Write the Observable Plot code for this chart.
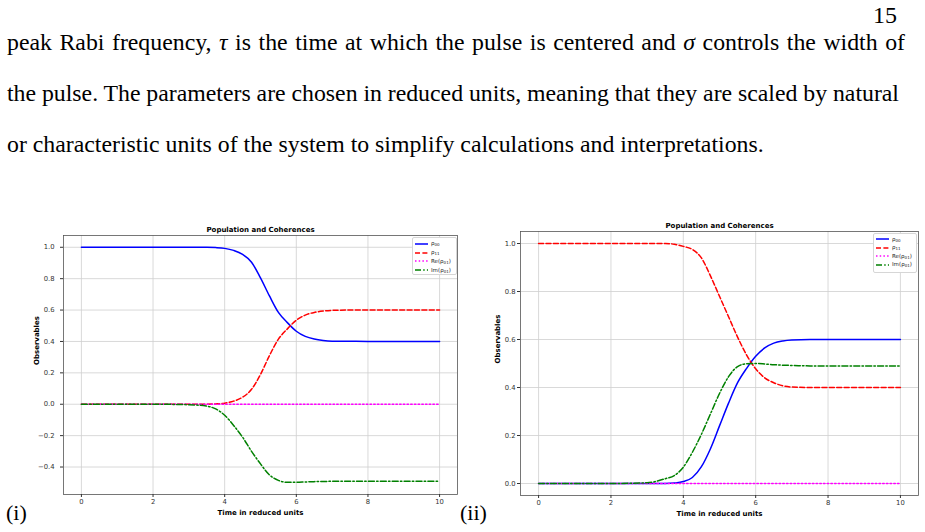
<!DOCTYPE html>
<html><head><meta charset="utf-8">
<script src="https://cdn.jsdelivr.net/npm/d3@7"></script>
<script src="https://cdn.jsdelivr.net/npm/@observablehq/plot@0.6"></script>
<style>
html,body{margin:0;padding:0;background:#fff;}
#page{position:relative;width:925px;height:532px;overflow:hidden;font-family:"Liberation Serif","Times New Roman",serif;color:#000;}
.line{position:absolute;left:7px;font-size:23.8px;line-height:24px;white-space:nowrap;}
.pnum{position:absolute;right:28px;top:3px;font-size:24px;line-height:24px;}
.tag{position:absolute;font-size:22px;line-height:22px;}
.chart{position:absolute;}
.legend{position:absolute;background:#fff;border:0.8px solid #d6d6d6;border-radius:2px;font-family:"DejaVu Sans",sans-serif;font-size:5.5px;color:#222;box-sizing:border-box;}
.legend .row{position:absolute;left:2px;height:6px;display:flex;align-items:center;white-space:nowrap;}
.legend svg{display:block;margin-right:3px;}
.legend sub{font-size:4px;vertical-align:-1px;}
</style></head>
<body><div id="page">
<div class="pnum">15</div>
<div class="line fit" data-w="898" style="top:30px">peak Rabi frequency, <i>τ</i> is the time at which the pulse is centered and <i>σ</i> controls the width of</div>
<div class="line fit" data-w="892" style="top:81px">the pulse. The parameters are chosen in reduced units, meaning that they are scaled by natural</div>
<div class="line" style="top:132px">or characteristic units of the system to simplify calculations and interpretations.</div>
<div id="c1" class="chart" style="left:0;top:218px"></div>
<div id="c2" class="chart" style="left:462px;top:214px"></div>
<div class="tag" style="left:6px;top:502px">(i)</div>
<div class="tag" style="left:460px;top:502px">(ii)</div>
</div>
<script>
// time samples (reduced units)
const t = [0,1,2,3,3.5,3.75,4,4.25,4.5,4.75,5,5.25,5.5,5.75,6,6.25,6.5,6.75,7,7.5,8,9,10];

// Panel (i)
const leftRho00 = [1,1,1,1,1,0.998,0.993,0.98,0.955,0.905,0.805,0.69,0.585,0.52,0.465,0.432,0.415,0.406,0.402,0.401,0.4,0.4,0.4];
const leftRho11 = [0,0,0,0,0,0.002,0.007,0.02,0.045,0.095,0.19,0.31,0.415,0.48,0.535,0.568,0.585,0.594,0.598,0.6,0.6,0.6,0.6];
const leftRe01  = [0,0,0,0,0,0,0,0,0,0,0,0,0,0,0,0,0,0,0,0,0,0,0];
const leftIm01  = [0,0,0,-0.003,-0.012,-0.03,-0.07,-0.135,-0.21,-0.3,-0.38,-0.45,-0.485,-0.497,-0.497,-0.495,-0.493,-0.492,-0.491,-0.49,-0.49,-0.49,-0.49];

// Panel (ii)
const rightRho00 = [0,0,0,0,0,0.002,0.008,0.025,0.07,0.145,0.24,0.335,0.42,0.48,0.53,0.565,0.585,0.594,0.598,0.6,0.6,0.6,0.6];
const rightRho11 = [1,1,1,1,1,0.997,0.988,0.975,0.94,0.865,0.78,0.695,0.61,0.535,0.478,0.44,0.42,0.407,0.402,0.4,0.4,0.4,0.4];
const rightRe01  = [0,0,0,0,0,0,0,0,0,0,0,0,0,0,0,0,0,0,0,0,0,0,0];
const rightIm01  = [0,0,0,0.003,0.02,0.033,0.068,0.13,0.205,0.29,0.375,0.445,0.487,0.499,0.5,0.498,0.495,0.493,0.492,0.49,0.49,0.49,0.49];

const xTicks = [0,2,4,6,8,10];
const leftYTicks = [-0.4,-0.2,0,0.2,0.4,0.6,0.8,1.0];
const rightYTicks = [0,0.2,0.4,0.6,0.8,1.0];

const seriesNames = ["ρ₀₀","ρ₁₁","Re(ρ₀₁)","Im(ρ₀₁)"];
const legendHTML = ["ρ<sub>00</sub>","ρ<sub>11</sub>","Re(ρ<sub>01</sub>)","Im(ρ<sub>01</sub>)"];
const seriesColors = ["#0000ff","#ff0000","#ff00ff","#008000"];
const seriesDash = [null,"5,2.4","1.5,2.2","6,2.2,1.5,2.2"];

const title = "Population and Coherences";
const xLabel = "Time in reduced units";
const yLabel = "Observables";

// stretch the justified body lines to their measured widths
document.querySelectorAll(".fit").forEach(el => {
  const target = +el.dataset.w;
  const w = el.getBoundingClientRect().width;
  const n = (el.textContent.match(/ /g) || []).length;
  el.style.wordSpacing = ((target - w) / n) + "px";
});

function build(values, o) {
  const marks = [
    Plot.gridX(xTicks, {stroke:"#cfcfcf", strokeOpacity:1, strokeWidth:0.8}),
    Plot.gridY(o.yTicks, {stroke:"#cfcfcf", strokeOpacity:1, strokeWidth:0.8})
  ];
  values.forEach((vals, i) => {
    const data = t.map((x, k) => ({t: x, v: vals[k]}));
    marks.push(Plot.line(data, {x:"t", y:"v", stroke: seriesColors[i], strokeWidth:1.5,
      strokeDasharray: seriesDash[i] || undefined, curve:"monotone-x"}));
  });
  marks.push(
    Plot.frame({stroke:"#555", strokeWidth:0.8}),
    Plot.axisX(xTicks, {tickSize:3, tickPadding:2, tickFormat: d => String(d), label:null, fontSize:6.8}),
    Plot.axisY(o.yTicks, {tickSize:3, tickPadding:o.yPad, tickFormat: d3.format(".1f"), label:null, fontSize:6.8}),
    Plot.text([title], {frameAnchor:"top", dy:-6, text:d=>d, fontWeight:"bold", fontSize:7, lineAnchor:"middle", fill:"#000"}),
    Plot.text([xLabel], {frameAnchor:"bottom", dy:o.xlabDy, text:d=>d, fontWeight:"bold", fontSize:7, lineAnchor:"middle", fill:"#000"}),
    Plot.text([yLabel], {frameAnchor:"left", dx:o.ylabDx, rotate:-90, text:d=>d, fontWeight:"bold", fontSize:7, lineAnchor:"middle", fill:"#000"})
  );
  return Plot.plot({
    width:o.width, height:o.height,
    marginLeft:o.ml, marginRight:o.mr, marginTop:o.mt, marginBottom:o.mb,
    x:{domain:[-0.5,10.5]},
    y:{domain:o.yDomain},
    style:{fontFamily:"DejaVu Sans, sans-serif", fontSize:"6.8px", color:"#333", background:"transparent", overflow:"visible"},
    marks
  });
}

function legend(o) {
  const div = document.createElement("div");
  div.className = "legend";
  Object.assign(div.style, {left:o.left+"px", top:o.top+"px", width:o.w+"px", height:o.h+"px"});
  seriesNames.forEach((name, i) => {
    const row = document.createElement("div");
    row.className = "row";
    row.style.top = (o.first + i*o.step - 3) + "px";
    const dash = seriesDash[i] ? ` stroke-dasharray="${seriesDash[i]}"` : "";
    row.innerHTML = `<svg width="13" height="4"><line x1="0" y1="2" x2="13" y2="2" stroke="${seriesColors[i]}" stroke-width="1.5"${dash}/></svg><span title="${name}">${legendHTML[i]}</span>`;
    div.appendChild(row);
  });
  document.getElementById("page").appendChild(div);
}

document.getElementById("c1").appendChild(build([leftRho00,leftRho11,leftRe01,leftIm01], {
  width:460, height:300, ml:63, mr:3, mt:17, mb:24, yDomain:[-0.575,1.075], yTicks:leftYTicks,
  yPad:6, xlabDy:18, ylabDx:-27
}));
document.getElementById("c2").appendChild(build([rightRho00,rightRho11,rightRe01,rightIm01], {
  width:463, height:304, ml:58, mr:7, mt:17, mb:23, yDomain:[-0.05,1.05], yTicks:rightYTicks,
  yPad:2, xlabDy:18, ylabDx:-23
}));
legend({left:412, top:237, w:45, h:38, first:5.7, step:8.8});
legend({left:873, top:233, w:44, h:40, first:5, step:8.6});
</script>
</body></html>
